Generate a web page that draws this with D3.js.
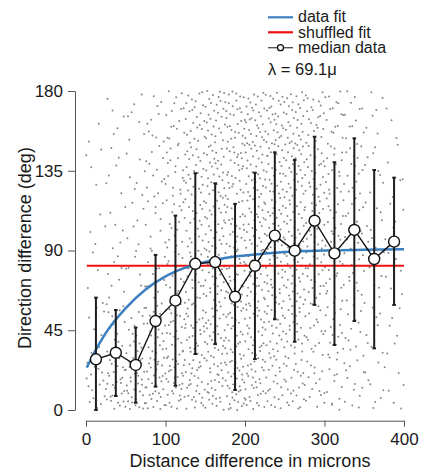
<!DOCTYPE html>
<html>
<head>
<meta charset="utf-8">
<script src="https://cdn.jsdelivr.net/npm/d3@7"></script>
<style>
  body { margin: 0; background: #fff; }
  text { font-family: "Liberation Sans", Arial, sans-serif; }
</style>
</head>
<body>
<div id="chart"></div>
<script>
// bin centres (microns) and median +/- spread
const binCenters = [12.5, 37.5, 62.5, 87.5, 112.5, 137.5, 162.5, 187.5, 212.5, 237.5, 262.5, 287.5, 312.5, 337.5, 362.5, 387.5];
const medians = [28.6, 32.3, 25.4, 50.2, 61.7, 82.5, 83.5, 63.9, 81.4, 98.4, 89.9, 106.8, 88.4, 101.6, 85.2, 95.0];
const upper = [63.4, 56.4, 46.5, 87.5, 109.7, 133.6, 127.9, 116.3, 133.9, 145.4, 141.1, 154.2, 139.8, 153.3, 135.4, 131.1];
const lower = [0, 7.9, 4.1, 13.2, 13.7, 31.6, 37.2, 11.3, 28.8, 51.2, 38.5, 59.3, 36.7, 50.2, 34.8, 59.3];

// exponential fit curve
const fitX = [1, 10, 25, 50, 75, 100, 125, 150, 175, 200, 250, 300, 350, 400];
const fitY = [23.9, 32, 43.5, 57.5, 68, 75.4, 80.3, 83.6, 85.8, 87.2, 89.2, 90, 90.4, 90.7];
const shuffledFit = 81.4;

// rough dot counts per 25 micron bin (rows) and 30 deg band (cols)
const bandEdges = [0, 30, 60, 90, 120, 150, 180];
const dotCounts = [
  [16, 7, 4, 4, 4, 2],
  [30, 14, 8, 6, 6, 5],
  [34, 16, 8, 6, 7, 7],
  [32, 22, 12, 10, 12, 10],
  [32, 26, 18, 16, 18, 16],
  [30, 28, 24, 22, 24, 24],
  [30, 28, 28, 26, 28, 28],
  [36, 30, 28, 28, 28, 30],
  [30, 30, 28, 28, 30, 30],
  [24, 26, 28, 28, 30, 30],
  [22, 24, 26, 26, 28, 28],
  [16, 18, 22, 22, 24, 22],
  [14, 16, 18, 18, 18, 16],
  [12, 12, 14, 14, 14, 12],
  [8, 8, 9, 9, 8, 6],
  [6, 6, 6, 6, 5, 3]
];
const binWidth = 25;

const xTicks = [0, 100, 200, 300, 400];
const yTicks = [0, 45, 90, 135, 180];

const width = 431, height = 475;
const blue = "#3b7fc0", red = "#ee1111";

var svg = d3.select("#chart").append("svg")
  .attr("width", width)
  .attr("height", height);

var x = d3.scaleLinear().domain([0, 400]).range([86, 404]);
var y = d3.scaleLinear().domain([0, 180]).range([410, 91]);

// spread the dots of each cell evenly (halton sequence, no randomness)
function halton(i, b) {
  let f = 1, r = 0;
  while (i > 0) { f /= b; r += f * (i % b); i = Math.floor(i / b); }
  return r;
}
let dots = [];
let k = 1;
dotCounts.forEach((row, bi) => {
  row.forEach((n, bj) => {
    for (let m = 0; m < n; m++, k++) {
      dots.push({
        x: bi * binWidth + halton(k, 2) * binWidth,
        y: bandEdges[bj] + halton(k, 3) * (bandEdges[bj + 1] - bandEdges[bj])
      });
    }
  });
});

svg.append("g").selectAll("circle")
  .data(dots)
  .enter().append("circle")
  .attr("cx", d => x(d.x))
  .attr("cy", d => y(d.y))
  .attr("r", 1)
  .attr("fill", "#888");

// fits
svg.append("line")
  .attr("x1", x(1)).attr("x2", x(400))
  .attr("y1", y(shuffledFit)).attr("y2", y(shuffledFit))
  .attr("stroke", red).attr("stroke-width", 2.2);

var fitLine = d3.line()
  .x((d, i) => x(fitX[i]))
  .y(d => y(d))
  .curve(d3.curveMonotoneX);
svg.append("path")
  .attr("d", fitLine(fitY))
  .attr("fill", "none")
  .attr("stroke", blue)
  .attr("stroke-width", 2.5);

// error bars
var bars = svg.append("g").attr("stroke", "#1e1e1e").attr("stroke-width", 2);
binCenters.forEach((c, i) => {
  bars.append("line")
    .attr("x1", x(c)).attr("x2", x(c))
    .attr("y1", y(lower[i])).attr("y2", y(upper[i]));
  [lower[i], upper[i]].forEach(v => {
    bars.append("line")
      .attr("x1", x(c) - 1.8).attr("x2", x(c) + 1.8)
      .attr("y1", y(v)).attr("y2", y(v));
  });
});

// median line and markers
svg.append("path")
  .attr("d", d3.line().x((d, i) => x(binCenters[i])).y(d => y(d))(medians))
  .attr("fill", "none")
  .attr("stroke", "#111")
  .attr("stroke-width", 1.4);

svg.append("g").selectAll("circle")
  .data(medians)
  .enter().append("circle")
  .attr("cx", (d, i) => x(binCenters[i]))
  .attr("cy", d => y(d))
  .attr("r", 5.5)
  .attr("fill", "#fff")
  .attr("stroke", "#111")
  .attr("stroke-width", 1.4);

// axes
var xAxis = svg.append("g")
  .attr("transform", "translate(0,420.7)")
  .call(d3.axisBottom(x).tickValues(xTicks).tickSize(6).tickSizeOuter(0).tickPadding(6));
var yAxis = svg.append("g")
  .attr("transform", "translate(75,0)")
  .call(d3.axisLeft(y).tickValues(yTicks).tickSize(7).tickSizeOuter(0).tickPadding(5));
[xAxis, yAxis].forEach(a => {
  a.select(".domain").attr("stroke", "#555");
  a.selectAll(".tick line").attr("stroke", "#555");
  a.selectAll("text")
    .attr("fill", "#1a1a1a")
    .style("font-size", "17px")
    .style("font-family", '"Liberation Sans", Arial, sans-serif');
});

svg.append("text")
  .attr("x", 250).attr("y", 467)
  .attr("text-anchor", "middle")
  .attr("fill", "#1a1a1a")
  .style("font-size", "18px")
  .text("Distance difference in microns");

svg.append("text")
  .attr("transform", "translate(31,248) rotate(-90)")
  .attr("text-anchor", "middle")
  .attr("fill", "#1a1a1a")
  .style("font-size", "18px")
  .text("Direction difference (deg)");

// legend
var legend = svg.append("g");
var lx0 = 268, lx1 = 293, tx = 298;
legend.append("line").attr("x1", lx0).attr("x2", lx1).attr("y1", 17.3).attr("y2", 17.3)
  .attr("stroke", blue).attr("stroke-width", 2.2);
legend.append("line").attr("x1", lx0).attr("x2", lx1).attr("y1", 32.3).attr("y2", 32.3)
  .attr("stroke", red).attr("stroke-width", 2.2);
legend.append("line").attr("x1", lx0).attr("x2", lx1).attr("y1", 47.7).attr("y2", 47.7)
  .attr("stroke", "#555").attr("stroke-width", 1.4);
legend.append("circle").attr("cx", (lx0 + lx1) / 2).attr("cy", 47.7).attr("r", 3)
  .attr("fill", "#fff").attr("stroke", "#111").attr("stroke-width", 1.3);
[["data fit", 22], ["shuffled fit", 37.5], ["median data", 53]].forEach(d => {
  legend.append("text").attr("x", tx).attr("y", d[1])
    .attr("fill", "#1a1a1a").style("font-size", "16px").text(d[0]);
});
legend.append("text").attr("x", lx0).attr("y", 75)
  .attr("fill", "#1a1a1a").style("font-size", "16.5px").text("λ = 69.1μ");
</script>
</body>
</html>
